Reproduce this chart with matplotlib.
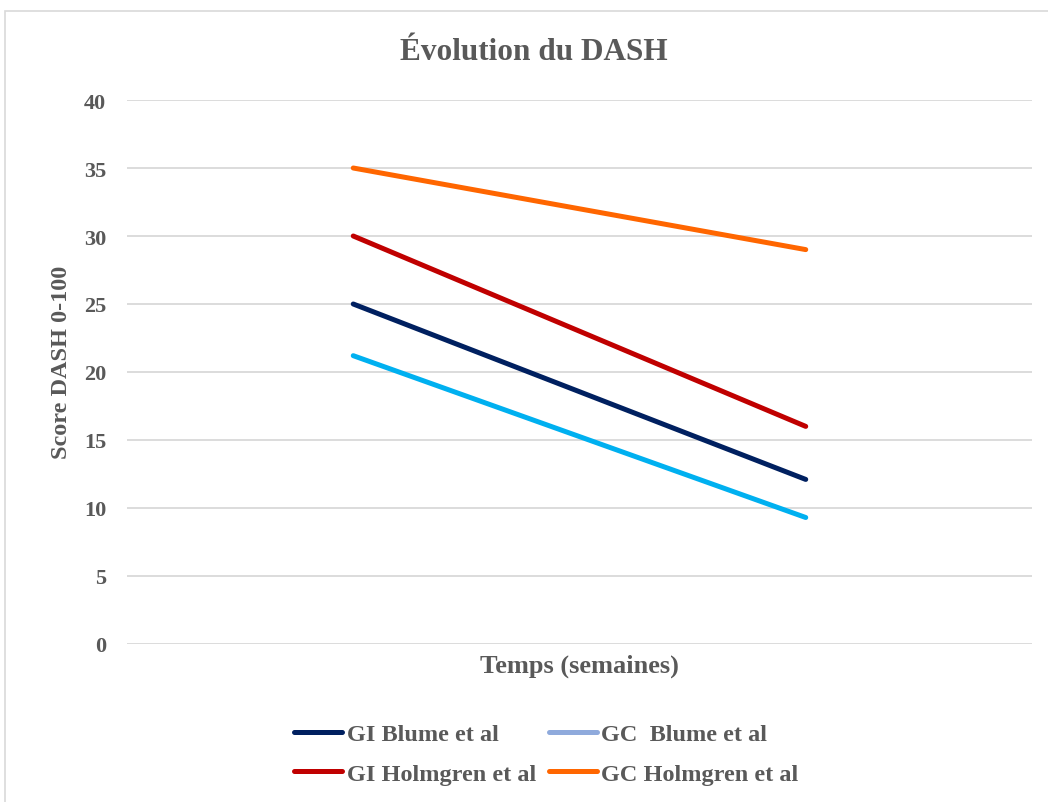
import numpy as np
import matplotlib.pyplot as plt
from matplotlib.lines import Line2D
from matplotlib.patches import Rectangle

plt.rcParams['font.family'] = ['Liberation Serif', 'DejaVu Serif']
plt.rcParams['font.weight'] = 'bold'

# data
temps = ['Avant', 'Après']
gi_blume = [25, 12.1]
gc_blume = [21.2, 9.3]
gi_holmgren = [30, 16]
gc_holmgren = [35, 29]

labels = ['GI Blume et al', 'GC  Blume et al', 'GI Holmgren et al', 'GC Holmgren et al']
line_colors = ['#002060', '#00B0F0', '#C00000', '#FF6600']
legend_colors = ['#002060', '#8FAADC', '#C00000', '#FF6600']
series = [gi_blume, gc_blume, gi_holmgren, gc_holmgren]

txt = '#595959'

fig = plt.figure(figsize=(10.48, 8.03), dpi=100)
ax = fig.add_axes([0.1212, 0.1968, 0.8635, 0.6774])

x = np.arange(len(temps))
for vals, c in zip(series, line_colors):
    ax.plot(x, vals, color=c, lw=3.6, solid_capstyle='round', zorder=3)

ax.set_xlim(-0.5, 1.5)
ax.set_ylim(0, 40)
ax.set_yticks(np.arange(0, 41, 5))
ax.set_xticks([])
ax.grid(axis='y', color='#D9D9D9', lw=1.3)
ax.set_axisbelow(True)
for s in ax.spines.values():
    s.set_visible(False)
ax.tick_params(axis='y', length=0, pad=15, labelsize=16, labelcolor=txt)
for t in ax.get_yticklabels():
    t.set_fontweight('bold')

ax.set_xlabel('Temps (semaines)', fontsize=19, color=txt, fontweight='bold', labelpad=7)
ax.set_ylabel('Score DASH 0-100', fontsize=17.5, color=txt, fontweight='bold')
ax.yaxis.set_label_coords(-0.061, 0.52)
fig.text(0.509, 0.935, 'Évolution du DASH', ha='center', va='center',
         fontsize=22.5, color=txt, fontweight='bold')

# legend filled row by row, as in the original
order = [0, 2, 1, 3]
handles = [Line2D([], [], color=legend_colors[i], lw=3.6, solid_capstyle='round') for i in order]
leg = fig.legend(handles, [labels[i] for i in order], ncol=2, loc='center',
                 bbox_to_anchor=(0.5215, 0.0598), frameon=False, fontsize=17.5,
                 handlelength=1.95, handletextpad=0.2, columnspacing=0.55, labelspacing=0.7)
for t in leg.get_texts():
    t.set_color(txt)
    t.set_fontweight('bold')

fig.patches.append(Rectangle((5 / 1048, -0.05), 1.1, 1 - 12 / 803 + 0.05,
                             transform=fig.transFigure, fill=False,
                             edgecolor='#D9D9D9', lw=1.2))

fig.savefig('out.png', dpi=100)
